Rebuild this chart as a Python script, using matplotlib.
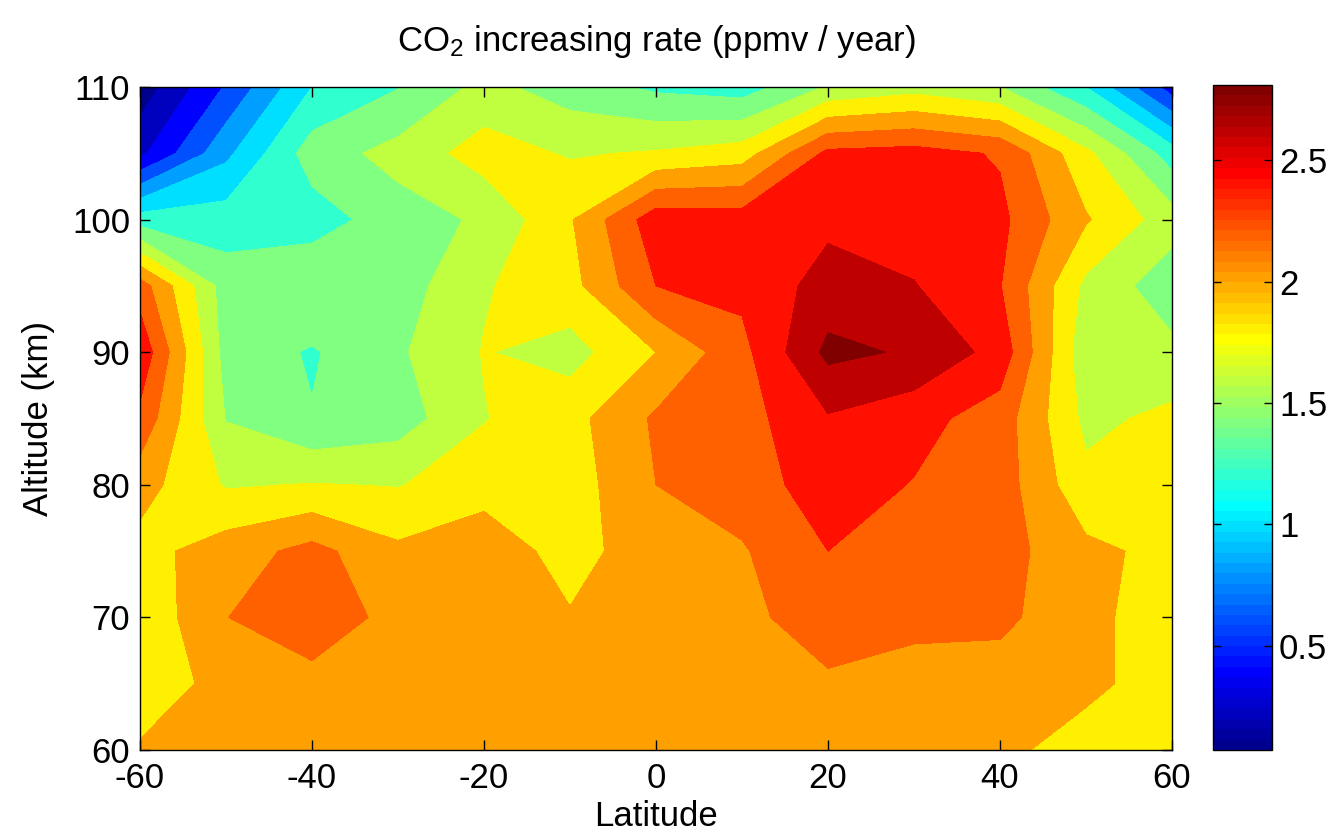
import numpy as np
import matplotlib
matplotlib.use("Agg")
import matplotlib.pyplot as plt
from matplotlib.colors import Normalize, ListedColormap
from matplotlib.cm import ScalarMappable

# grid of the retrieval
lat = [-60, -50, -40, -30, -20, -10, 0, 10, 20, 30, 40, 50, 60]
alt = [60, 65, 70, 75, 80, 85, 90, 95, 100, 105, 110]

# CO2 increasing rate (ppmv/year), one row per altitude, lat -60 .. 60
rate_60 = [2.02, 2.05, 2.08, 2.05, 2.08, 2.08, 2.08, 2.08, 2.10, 2.08, 2.05, 1.91, 1.85]
rate_65 = [1.90, 2.056, 2.12, 2.10, 2.10, 2.10, 2.10, 2.10, 2.17, 2.08, 2.10, 2.05, 1.90]
rate_70 = [1.85, 2.195, 2.35, 2.12, 2.10, 2.02, 2.10, 2.15, 2.30, 2.28, 2.25, 2.05, 1.90]
rate_75 = [1.93, 2.10, 2.265, 2.04, 2.15, 1.90, 2.15, 2.18, 2.40, 2.30, 2.28, 2.05, 1.94]
rate_80 = [2.08, 1.78, 1.81, 1.79, 1.90, 1.90, 2.20, 2.30, 2.50, 2.39, 2.30, 1.85, 1.85]
rate_85 = [2.35, 1.59, 1.41, 1.50, 1.79, 1.93, 2.23, 2.32, 2.58, 2.47, 2.305, 1.75, 1.85]
rate_90 = [2.55, 1.52, 1.38, 1.57, 1.81, 1.72, 2.00, 2.34, 2.85, 2.775, 2.525, 1.66, 1.65]
rate_95 = [2.30, 1.50, 1.58, 1.50, 1.78, 1.93, 2.40, 2.45, 2.68, 2.61, 2.41, 1.75, 1.48]
rate_100 = [1.30, 1.30, 1.30, 1.51, 1.63, 1.98, 2.52, 2.50, 2.555, 2.50, 2.45, 2.02, 1.69]
rate_105 = [0.35, 0.95, 1.50, 1.67, 1.89, 1.78, 1.82, 1.90, 2.45, 2.48, 2.38, 1.85, 1.30]
rate_110 = [0.08, 0.62, 1.20, 1.39, 1.66, 1.50, 1.36, 1.30, 1.62, 1.72, 1.60, 1.20, 0.50]

z = np.array([rate_60, rate_65, rate_70, rate_75, rate_80, rate_85, rate_90,
              rate_95, rate_100, rate_105, rate_110])


def matlab_jet(m=64):
    # same construction as matlab's jet(m)
    n = int(np.ceil(m / 4))
    u = np.concatenate([np.arange(1, n + 1) / n, np.ones(n - 1), np.arange(n, 0, -1) / n])
    g = int(np.ceil(n / 2)) - (1 if m % 4 == 1 else 0) + np.arange(1, len(u) + 1)
    r = g + n
    b = g - n
    J = np.zeros((m, 3))
    for idx, ch in ((r, 0), (g, 1), (b, 2)):
        ok = (idx >= 1) & (idx <= m)
        J[idx[ok] - 1, ch] = u[ok]
    return ListedColormap(J)


plt.rcParams['font.family'] = ['Liberation Sans', 'DejaVu Sans']
plt.rcParams['mathtext.default'] = 'regular'
plt.rcParams['axes.unicode_minus'] = False

fig = plt.figure(figsize=(13.3, 8.36), dpi=100)
ax = fig.add_axes([140/1330, 86/836, 1032/1330, 663/836])

cmap = matlab_jet(64)
norm = Normalize(vmin=0.07, vmax=2.81)

# matlab style: each band takes the colour of its lower level
levels = [0.0] + [round(0.2*k, 1) for k in range(1, 15)] + [3.5]
band_colors = [cmap(norm(max(lo, z.min()))) for lo in levels[:-1]]
ax.contourf(lat, alt, z, levels=levels, colors=band_colors, antialiased=False)

ax.set_xlim(-60, 60)
ax.set_ylim(60, 110)
ax.set_xticks(range(-60, 61, 20))
ax.set_yticks(range(60, 111, 10))
ax.tick_params(direction='in', top=True, right=True, length=7, width=1,
               labelsize=25)
ax.tick_params(axis='x', pad=9)
ax.tick_params(axis='y', pad=7)
for s in ax.spines.values():
    s.set_linewidth(1)
ax.set_xlabel('Latitude', fontsize=25, labelpad=3)
ax.set_ylabel('Altitude (km)', fontsize=25, labelpad=12)
ax.set_title('CO$_2$ increasing rate (ppmv / year)', fontsize=25, pad=26)

cax = fig.add_axes([1213/1330, 86/836, 59/1330, 665/836])
sm = ScalarMappable(norm=norm, cmap=cmap)
cb = fig.colorbar(sm, cax=cax)
cb.set_ticks([0.5, 1, 1.5, 2, 2.5])
cb.set_ticklabels(['0.5', '1', '1.5', '2', '2.5'])
cax.tick_params(direction='in', left=True, right=True, length=6, width=1,
                labelsize=25, pad=5)
cb.outline.set_linewidth(1)

fig.savefig('out.png', dpi=100)
